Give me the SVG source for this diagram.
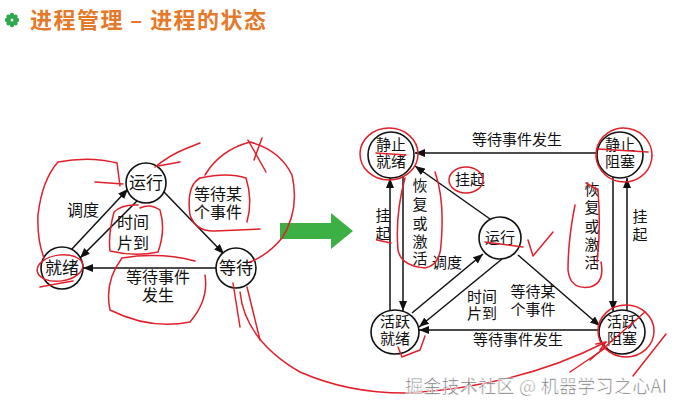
<svg xmlns="http://www.w3.org/2000/svg" width="681" height="411" viewBox="0 0 681 411">
<style>
.nd{fill:#fff;stroke:#111;stroke-width:1.6}
.t{font-family:"Liberation Sans","Noto Sans CJK SC",sans-serif;fill:#111;text-anchor:middle}
.l16{font-size:16px}
.l15{font-size:15px}
.ln{stroke:#111;stroke-width:1.5;fill:none}
.red{stroke:#e0202a;stroke-width:1.5;fill:none;stroke-linecap:round;stroke-linejoin:round}
</style>
<defs>
<marker id="ah" markerUnits="userSpaceOnUse" markerWidth="10" markerHeight="8" refX="10" refY="4" orient="auto">
<path d="M0,0 L10,4 L0,8 Z" fill="#111"/>
</marker>
</defs>
<rect width="681" height="411" fill="#fff"/>

<g id="title">
<g transform="translate(12,20)" fill="#2ba84a">
<circle r="4"/>
<circle cx="0" cy="-5" r="2.2"/><circle cx="0" cy="5" r="2.2"/><circle cx="-5" cy="0" r="2.2"/><circle cx="5" cy="0" r="2.2"/>
<circle cx="-3.6" cy="-3.6" r="2"/><circle cx="3.6" cy="3.6" r="2"/><circle cx="-3.6" cy="3.6" r="2"/><circle cx="3.6" cy="-3.6" r="2"/>
<circle r="1.5" fill="#fff"/>
</g>
<text x="30" y="28" font-family="Noto Sans CJK SC,'Liberation Sans',sans-serif" font-size="22" fill="#e5792a" font-weight="600" textLength="236">进程管理 – 进程的状态</text>
</g>

<g id="connectors">
<line class="ln" x1="71" y1="250" x2="128" y2="189" marker-end="url(#ah)"/>
<line class="ln" x1="137" y1="201" x2="80" y2="258" marker-end="url(#ah)"/>
<line class="ln" x1="164" y1="192" x2="224" y2="254" marker-end="url(#ah)"/>
<line class="ln" x1="216" y1="268" x2="83" y2="268" marker-end="url(#ah)"/>

<line class="ln" x1="597" y1="153" x2="415" y2="153" marker-end="url(#ah)"/>
<line class="ln" x1="390" y1="311" x2="390" y2="178" marker-end="url(#ah)"/>
<line class="ln" x1="403" y1="176" x2="403" y2="311" marker-end="url(#ah)"/>
<line class="ln" x1="613" y1="177" x2="613" y2="311" marker-end="url(#ah)"/>
<line class="ln" x1="627" y1="311" x2="627" y2="178" marker-end="url(#ah)"/>
<line class="ln" x1="490" y1="219" x2="415" y2="166" marker-end="url(#ah)"/>
<line class="ln" x1="412" y1="313" x2="483" y2="254" marker-end="url(#ah)"/>
<line class="ln" x1="502" y1="259" x2="419" y2="327" marker-end="url(#ah)"/>
<line class="ln" x1="518" y1="255" x2="600" y2="326" marker-end="url(#ah)"/>
<line class="ln" x1="600" y1="330" x2="419" y2="330" marker-end="url(#ah)"/>
</g>

<g id="labels">
<text class="t l16" x="83" y="216">调度</text>
<text class="t l16" x="133" y="228">时间<tspan x="133" dy="21">片到</tspan></text>
<text class="t l16" x="218" y="200">等待某<tspan x="218" dy="18">个事件</tspan></text>
<text class="t l16" x="158" y="283">等待事件<tspan x="158" dy="18">发生</tspan></text>

<text class="t l15" x="517" y="145">等待事件发生</text>
<text class="t l15" x="383" y="221">挂<tspan x="383" dy="18">起</tspan></text>
<text class="t l15" x="420" y="191">恢<tspan x="420" dy="19">复</tspan><tspan x="420" dy="19">或</tspan><tspan x="420" dy="18">激</tspan><tspan x="420" dy="17">活</tspan></text>
<text class="t l15" x="592" y="195">恢<tspan x="592" dy="18">复</tspan><tspan x="592" dy="19">或</tspan><tspan x="592" dy="18">激</tspan><tspan x="592" dy="18">活</tspan></text>
<text class="t l15" x="640" y="222">挂<tspan x="640" dy="18">起</tspan></text>
<text class="t l15" x="470" y="185">挂起</text>
<text class="t l15" x="447" y="268">调度</text>
<text class="t l15" x="482" y="302">时间<tspan x="482" dy="17">片到</tspan></text>
<text class="t l15" x="533" y="297">等待某<tspan x="533" dy="18">个事件</tspan></text>
<text class="t l15" x="518" y="345">等待事件发生</text>
</g>

<g id="n-run-l"><circle class="nd" cx="146" cy="183" r="20"/><text class="t" font-size="17" x="146" y="189">运行</text></g>
<g id="n-ready-l"><circle class="nd" cx="62" cy="268" r="21"/><text class="t" font-size="17" x="62" y="274">就绪</text></g>
<g id="n-wait-l"><circle class="nd" cx="236" cy="268" r="20"/><text class="t" font-size="17" x="236" y="274">等待</text></g>

<g id="arrow-big"><path d="M280,223 L331,223 L331,213 L353,231 L331,249 L331,239 L280,239 Z" fill="#3cb044"/></g>

<g id="n-sready"><circle class="nd" cx="391" cy="155" r="23"/><text class="t l15" x="391" y="150">静止<tspan x="391" dy="17">就绪</tspan></text></g>
<g id="n-sblock"><circle class="nd" cx="620" cy="155" r="23"/><text class="t l15" x="620" y="150">静止<tspan x="620" dy="17">阻塞</tspan></text></g>
<g id="n-run-r"><circle class="nd" cx="500" cy="238" r="21"/><text class="t l15" x="500" y="243">运行</text></g>
<g id="n-aready"><ellipse class="nd" cx="395" cy="332" rx="24" ry="22"/><text class="t l15" x="395" y="327">活跃<tspan x="395" dy="17">就绪</tspan></text></g>
<g id="n-ablock"><ellipse class="nd" cx="622" cy="332" rx="23" ry="22"/><text class="t l15" x="622" y="327">活跃<tspan x="622" dy="17">阻塞</tspan></text></g>

<g id="annotations" class="red">
<path d="M120,186 L117,163 Q90,156 58,162 Q42,180 38,215 Q37,240 44,258"/>
<path d="M95,182 L123,184"/>
<ellipse cx="60" cy="268" rx="23" ry="13" transform="rotate(-8 60 268)"/>
<path d="M40,287 Q55,284 73,281"/>
<path d="M138,205 Q122,204 114,212 Q108,235 110,251 Q135,257 158,252 Q166,230 160,210 Q150,203 140,208"/>
<path d="M200,178 Q186,186 190,215 Q196,232 215,231 L260,229"/>
<path d="M200,178 Q228,172 246,178 Q253,200 247,222"/>
<path d="M195,261 Q160,252 122,258 Q104,282 110,310 Q150,330 190,322 Q209,300 205,275"/>
<path d="M155,167 Q170,155 185,149 L200,143"/>
<path d="M158,166 L180,162"/>
<path d="M205,175 Q220,150 250,142 Q280,150 292,175 Q300,210 282,238 Q268,255 250,262"/>
<path d="M248,140 L266,172"/>
<path d="M262,138 L254,160"/>
<path d="M233,283 L240,327"/>
<path d="M247,287 L260,340"/>
<path d="M240,292 Q245,340 300,372 Q350,394 410,393 Q520,386 606,342"/>
<path d="M600,350 L606,342 L596,344"/>

<ellipse cx="389" cy="154" rx="29" ry="26"/>
<path d="M376,153 L406,155"/>
<ellipse cx="624" cy="155" rx="28" ry="27" transform="rotate(10 624 155)"/>
<path d="M598,149 L648,152"/>
<ellipse cx="466" cy="180" rx="17" ry="13"/>
<path d="M405,178 Q395,215 398,250 Q401,266 425,268 Q440,265 441,245 Q445,200 435,172"/>
<path d="M377,240 L391,243"/>
<path d="M485,242 L523,247"/>
<path d="M528,240 L533,256 L553,232"/>
<path d="M575,205 Q568,240 568,270 Q570,290 590,287 Q605,283 601,262"/>
<path d="M586,183 L598,190 Q601,230 597,262"/>
<ellipse cx="626" cy="331" rx="28" ry="26"/>
<path d="M570,372 L607,347"/>
<path d="M590,360 L645,312"/>
<path d="M633,376 L666,334"/>
<path d="M398,347 L402,357 L420,350 L425,336"/>
</g>

<g id="watermark">
<text x="405" y="393" font-family="Noto Sans CJK SC,'Liberation Sans',sans-serif" font-size="18" fill="#6a6a6a" stroke="#fff" stroke-width="0.6" textLength="262">掘金技术社区 @ 机器学习之心AI</text>
</g>
</svg>
